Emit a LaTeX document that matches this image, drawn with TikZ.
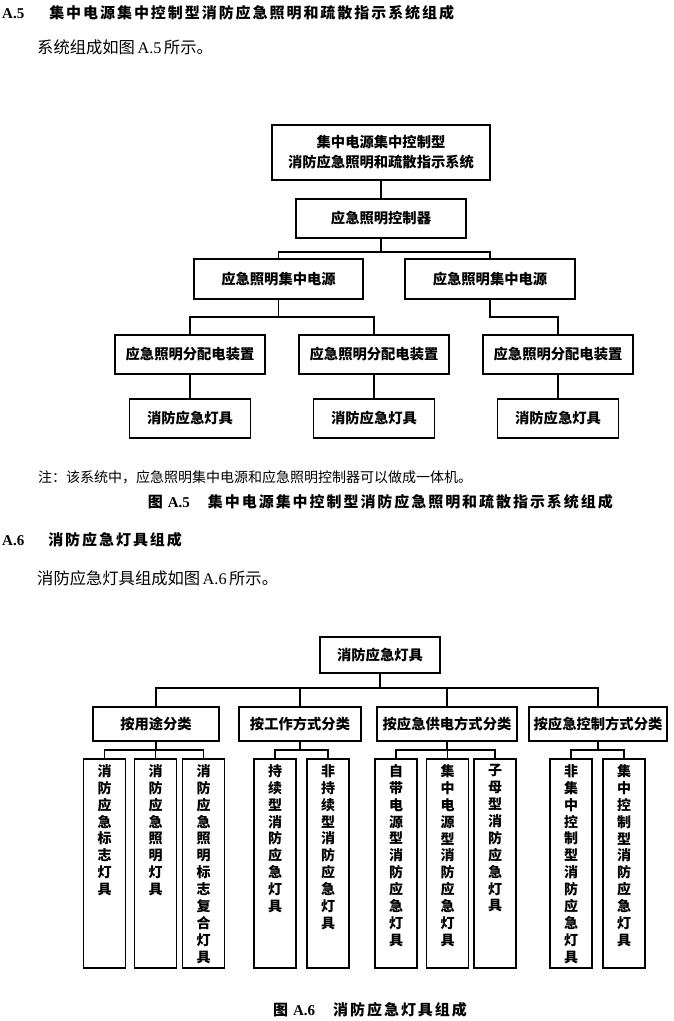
\documentclass[tikz,border=0pt]{standalone}
\usepackage{fontspec}
\setmainfont{Liberation Serif}
\newfontfamily\cjk{Noto Sans CJK SC}
\newfontfamily\cjkh[LetterSpace=13]{Noto Sans CJK SC}
\newfontfamily\lat{Liberation Serif}
\newcommand{\hdfont}{\cjkh\bfseries\fontsize{15}{17}\selectfont}
\newcommand{\hdlat}{\lat\bfseries\fontsize{15}{17}\selectfont}
\newcommand{\bdfont}{\cjk\fontsize{16.3}{18}\selectfont}
\newcommand{\bdlat}{\lat\fontsize{16.3}{18}\selectfont}
\begin{document}
\begin{tikzpicture}[x=1pt,y=-1pt,
  box/.style={draw, line width=1.6pt, inner sep=0pt, align=center,
    font=\cjk\bfseries\fontsize{14.3}{20}\selectfont},
  leaf/.style={draw, line width=1.6pt, inner sep=0pt, minimum width=42, minimum height=209},
  vtext/.style={anchor=north, inner sep=0pt, align=center, yshift=-6pt,
    font=\cjk\bfseries\fontsize{14}{16.9}\selectfont},
  conn/.style={line width=1.1pt},
  txt/.style={inner sep=0pt, anchor=west}
]
\useasboundingbox (0,0) rectangle (674,1021);

% ---------- A.5 text ----------
\node[txt] (h5) at (2,13) {{\hdlat A.5}\hspace{25pt}{\hdfont 集中电源集中控制型消防应急照明和疏散指示系统组成}};
\node[txt] (b5) at (37,47) {{\bdfont 系统组成如图}\ {\bdlat A.5}\ {\bdfont 所示。}};

% ---------- A.5 diagram ----------
\node[box, minimum width=218, minimum height=55] (sys) at (381,152.5) {集中电源集中控制型\\消防应急照明和疏散指示系统};
\node[box, minimum width=170, minimum height=39] (ctl) at (381,218.5) {应急照明控制器};
\node[box, minimum width=169, minimum height=40] (p1) at (278.5,279) {应急照明集中电源};
\node[box, minimum width=170, minimum height=40] (p2) at (490,279) {应急照明集中电源};
\node[box, minimum width=150, minimum height=39] (d1) at (190,354.5) {应急照明分配电装置};
\node[box, minimum width=150, minimum height=39] (d2) at (374,354.5) {应急照明分配电装置};
\node[box, minimum width=150, minimum height=39] (d3) at (558,354.5) {应急照明分配电装置};
\node[box, minimum width=121, minimum height=39] (l1) at (190,418.5) {消防应急灯具};
\node[box, minimum width=121, minimum height=39] (l2) at (374,418.5) {消防应急灯具};
\node[box, minimum width=121, minimum height=39] (l3) at (558,418.5) {消防应急灯具};

\coordinate (ba) at (381,252);
\coordinate (bb) at (278.5,317);
\coordinate (bc) at (490,317);
\draw[conn] (sys.south) -- (ctl.north);
\draw[conn] (ctl.south) -- (ba) -| (p1.north);
\draw[conn] (ba) -| (p2.north);
\draw[conn] (p1.south) -- (bb) -| (d1.north);
\draw[conn] (bb) -| (d2.north);
\draw[conn] (p2.south) -- (bc) -| (d3.north);
\draw[conn] (d1.south) -- (l1.north);
\draw[conn] (d2.south) -- (l2.north);
\draw[conn] (d3.south) -- (l3.north);

\node[txt] (note) at (38,477) {\cjk\fontsize{14}{17}\selectfont 注：该系统中，应急照明集中电源和应急照明控制器可以做成一体机。};
\node[inner sep=0pt, anchor=east] (cap5) at (613,502) {{\hdfont 图}\hspace{5pt}{\hdlat A.5}\hspace{18pt}{\hdfont 集中电源集中控制型消防应急照明和疏散指示系统组成}};

% ---------- A.6 text ----------
\node[txt] (h6) at (2,540) {{\hdlat A.6}\hspace{24pt}{\hdfont 消防应急灯具组成}};
\node[txt] (b6) at (37,578) {{\bdfont 消防应急灯具组成如图}\ {\bdlat A.6}\ {\bdfont 所示。}};

% ---------- A.6 diagram ----------
\node[box, minimum width=120, minimum height=36] (root) at (380,655) {消防应急灯具};
\node[box, minimum width=126, minimum height=34] (c1) at (156,724) {按用途分类};
\node[box, minimum width=122, minimum height=34] (c2) at (300,724) {按工作方式分类};
\node[box, minimum width=140, minimum height=34] (c3) at (447,724) {按应急供电方式分类};
\node[box, minimum width=138, minimum height=34] (c4) at (598,724) {按应急控制方式分类};

\coordinate (r0) at (380,688);
\draw[conn] (root.south) -- (r0);
\draw[conn] (r0) -| (c1.north);
\draw[conn] (r0) -| (c2.north);
\draw[conn] (r0) -| (c3.north);
\draw[conn] (r0) -| (c4.north);

\node[leaf, label={[vtext]north:消\\防\\应\\急\\标\\志\\灯\\具}] (e1) at (104.5,863.5) {};
\node[leaf, label={[vtext]north:消\\防\\应\\急\\照\\明\\灯\\具}] (e2) at (155.5,863.5) {};
\node[leaf, label={[vtext]north:消\\防\\应\\急\\照\\明\\标\\志\\复\\合\\灯\\具}] (e3) at (203.5,863.5) {};
\node[leaf, label={[vtext]north:持\\续\\型\\消\\防\\应\\急\\灯\\具}] (e4) at (275,863.5) {};
\node[leaf, label={[vtext]north:非\\持\\续\\型\\消\\防\\应\\急\\灯\\具}] (e5) at (328,863.5) {};
\node[leaf, label={[vtext]north:自\\带\\电\\源\\型\\消\\防\\应\\急\\灯\\具}] (e6) at (396,863.5) {};
\node[leaf, label={[vtext]north:集\\中\\电\\源\\型\\消\\防\\应\\急\\灯\\具}] (e7) at (447.5,863.5) {};
\node[leaf, label={[vtext]north:子\\母\\型\\消\\防\\应\\急\\灯\\具}] (e8) at (495,863.5) {};
\node[leaf, label={[vtext]north:非\\集\\中\\控\\制\\型\\消\\防\\应\\急\\灯\\具}] (e9) at (571,863.5) {};
\node[leaf, label={[vtext]north:集\\中\\控\\制\\型\\消\\防\\应\\急\\灯\\具}] (e10) at (624,863.5) {};

\coordinate (k1) at (156,750);
\coordinate (k2) at (300,750);
\coordinate (k3) at (447,750);
\coordinate (k4) at (598,750);
\draw[conn] (c1.south) -- (k1);
\draw[conn] (k1) -| (e1.north);
\draw[conn] (k1) -| (e2.north);
\draw[conn] (k1) -| (e3.north);
\draw[conn] (c2.south) -- (k2);
\draw[conn] (k2) -| (e4.north);
\draw[conn] (k2) -| (e5.north);
\draw[conn] (c3.south) -- (k3);
\draw[conn] (k3) -| (e6.north);
\draw[conn] (k3) -| (e7.north);
\draw[conn] (k3) -| (e8.north);
\draw[conn] (c4.south) -- (k4);
\draw[conn] (k4) -| (e9.north);
\draw[conn] (k4) -| (e10.north);

\node[inner sep=0pt] (cap6) at (370,1010) {{\hdfont 图}\hspace{5pt}{\hdlat A.6}\hspace{18pt}{\hdfont 消防应急灯具组成}};
\end{tikzpicture}
\end{document}
